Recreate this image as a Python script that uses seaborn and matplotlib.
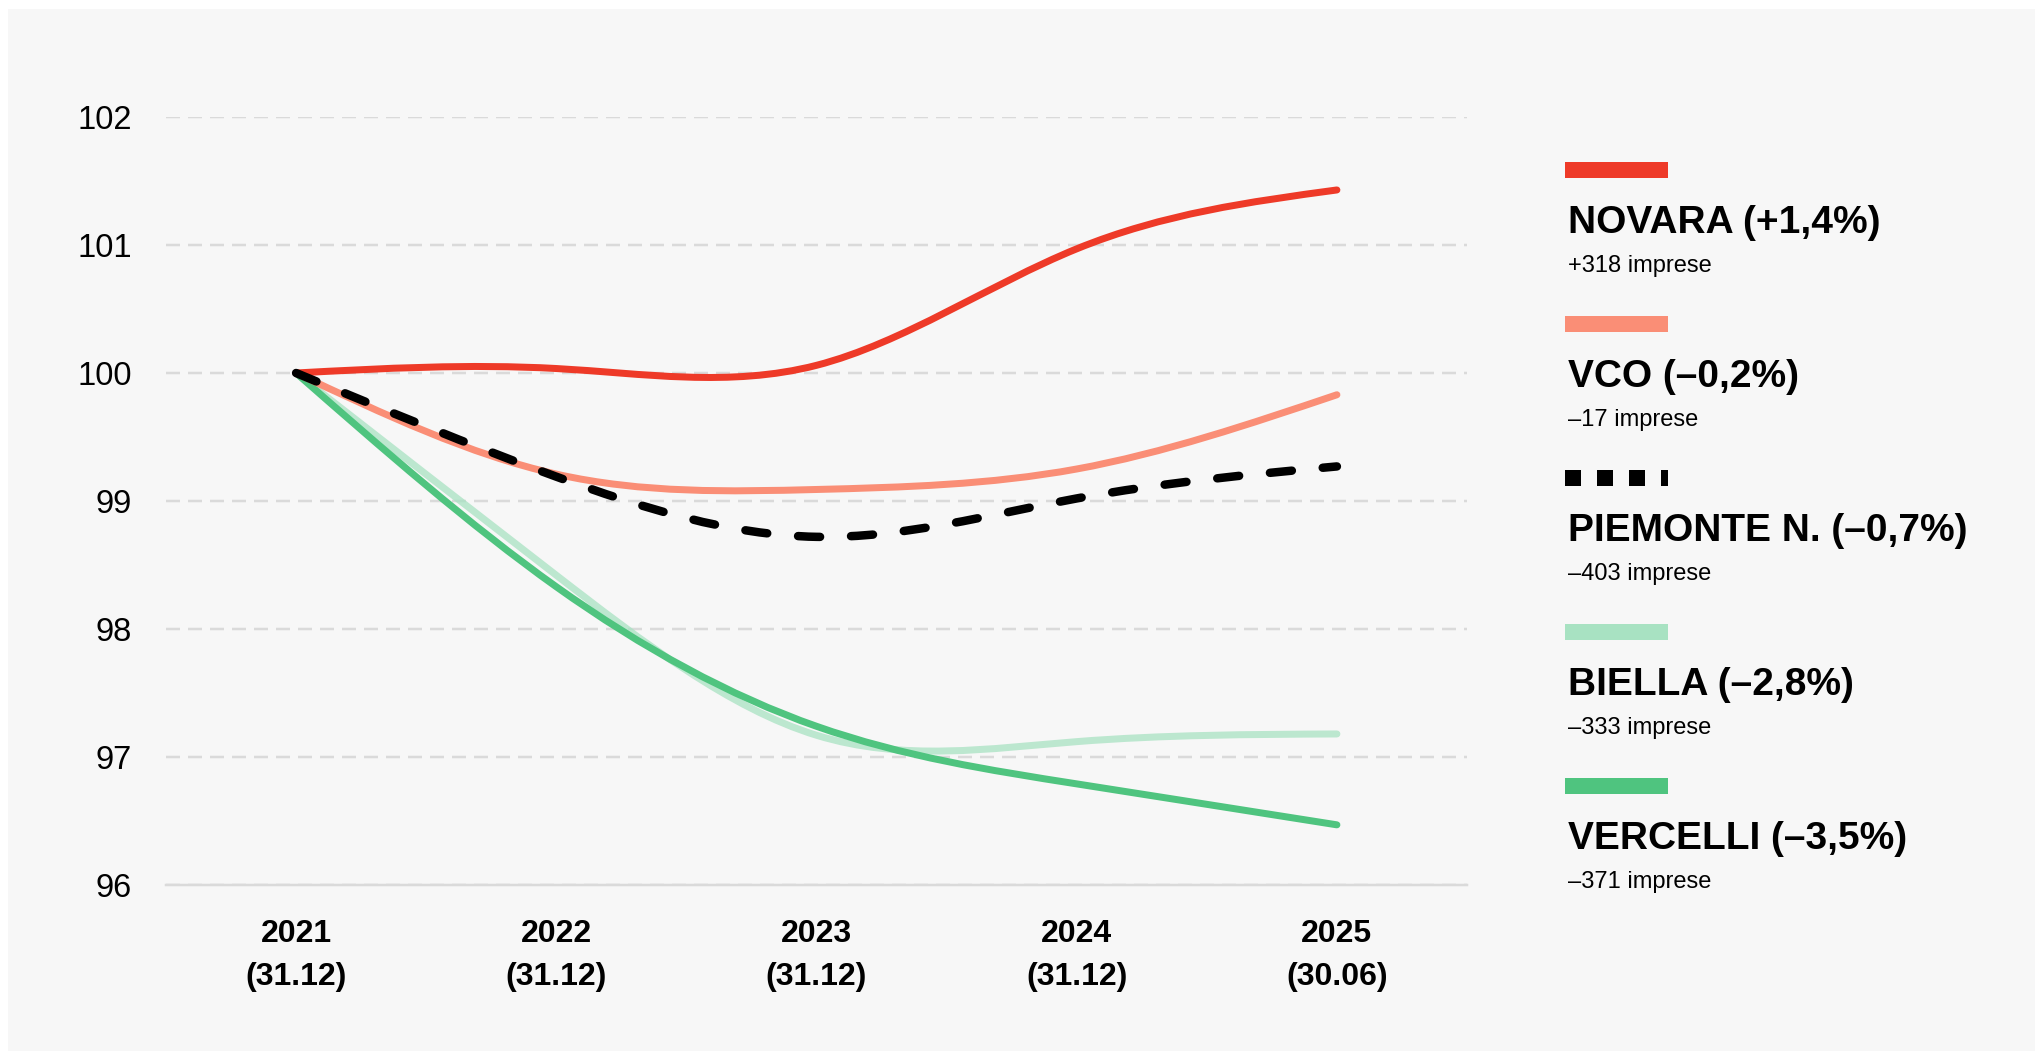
import numpy as np
import seaborn as sns
import matplotlib.pyplot as plt
from matplotlib.path import Path
from matplotlib.patches import PathPatch, Rectangle
from matplotlib.lines import Line2D

# Dati (indice 2021 = 100)
years = [2021, 2022, 2023, 2024, 2025]
dates = ['31.12', '31.12', '31.12', '31.12', '30.06']

novara = [100.0, 100.035, 100.06, 100.97, 101.43]
vco = [100.0, 99.21, 99.09, 99.25, 99.83]
piemonte = [100.0, 99.19, 98.72, 99.02, 99.27]
biella = [100.0, 98.42, 97.17, 97.12, 97.18]
vercelli = [100.0, 98.33, 97.24, 96.79, 96.47]

names = ['NOVARA', 'VCO', 'PIEMONTE N.', 'BIELLA', 'VERCELLI']
pct_change = [1.4, -0.2, -0.7, -2.8, -3.5]
delta_imprese = [318, -17, -403, -333, -371]
series = [novara, vco, piemonte, biella, vercelli]

yticks = [96, 97, 98, 99, 100, 101, 102]

# Stile
colors = ['#ee3a28', '#fa8e76', '#000000', '#a8e2c2', '#4fc47f']
line_alpha = [1, 1, 1, 0.75, 1]
zorders = [5, 4, 6, 2, 3]
bg_color = '#f7f7f7'
grid_color = '#dadada'
W, H = 2035, 1051
DPI = 100
PT = 72 / DPI  # pixel -> punti

sns.set_theme(style='white')
plt.rcParams['font.family'] = ['Liberation Sans', 'DejaVu Sans']
plt.rcParams['lines.scale_dashes'] = False


def fmt_sign(v):
    return '+' if v > 0 else '\u2013'


def curve_path(x, y):
    # curva "natural" (come d3.curveNatural) disegnata con bezier cubiche
    x = np.asarray(x, float)
    y = np.asarray(y, float)
    n = len(y)
    A = np.zeros((n, n))
    d = np.zeros(n)
    A[0, 0] = A[-1, -1] = 1
    for i in range(1, n - 1):
        A[i, i - 1:i + 2] = [1, 4, 1]
        d[i] = 6 * (y[i + 1] - 2 * y[i] + y[i - 1])
    M = np.linalg.solve(A, d)
    s = np.zeros(n)
    for i in range(n - 1):
        s[i] = (y[i + 1] - y[i]) - (2 * M[i] + M[i + 1]) / 6
    s[-1] = (y[-1] - y[-2]) + (M[-2] + 2 * M[-1]) / 6
    h = x[1] - x[0]
    verts = [(x[0], y[0])]
    codes = [Path.MOVETO]
    for i in range(n - 1):
        verts += [(x[i] + h / 3, y[i] + s[i] / 3),
                  (x[i + 1] - h / 3, y[i + 1] - s[i + 1] / 3),
                  (x[i + 1], y[i + 1])]
        codes += [Path.CURVE4] * 3
    return Path(verts, codes)


fig = plt.figure(figsize=(W / DPI, H / DPI), dpi=DPI)
fig.patch.set_facecolor('white')
fig.patches.append(Rectangle((8 / W, 0), 1, 1 - 9 / H, transform=fig.transFigure,
                             facecolor=bg_color, edgecolor='none', zorder=-10))

ax = fig.add_axes([166 / W, 166 / H, 1301 / W, 768 / H])
ax.set_facecolor(bg_color)

for vals, c, a, z, name in zip(series, colors, line_alpha, zorders, names):
    if name.startswith('PIEMONTE'):
        ls = (0, (22 * PT, 31 * PT))
        lw = 8.5 * PT
    else:
        ls = '-'
        lw = 7 * PT
    patch = PathPatch(curve_path(years, vals), fill=False, edgecolor=c, alpha=a,
                      linewidth=lw, linestyle=ls, capstyle='round', joinstyle='round',
                      zorder=z)
    ax.add_patch(patch)

ax.set_xlim(2020.5, 2025.5)
ax.set_ylim(96, 102)
ax.set_yticks(yticks)
ax.set_yticklabels([str(t) for t in yticks], fontsize=23.5)
ax.set_xticks(years)
ax.set_xticklabels([f'{y}\n({d})' for y, d in zip(years, dates)],
                   fontsize=23, fontweight='bold', linespacing=1.58)

ax.yaxis.grid(True, color=grid_color, linewidth=2.5 * PT, linestyle=(0, (14 * PT, 8 * PT)))
ax.xaxis.grid(False)
ax.tick_params(axis='y', length=0, pad=34 * PT, colors='black')
ax.tick_params(axis='x', length=9 * PT, width=2 * PT, color=grid_color, pad=25 * PT,
               direction='out', labelcolor='black')
sns.despine(ax=ax, left=True, top=True, right=True)
ax.spines['bottom'].set_color(grid_color)
ax.spines['bottom'].set_linewidth(2.5 * PT)
ax.spines['bottom'].set_zorder(1)

# Legenda a destra
x0 = 1565
step = 154
for i, (name, pct, dimp, c) in enumerate(zip(names, pct_change, delta_imprese, colors)):
    top = 162 + i * step
    if name.startswith('PIEMONTE'):
        yc = 1 - (top + 8) / H
        fig.add_artist(Line2D([x0 / W, (x0 + 103) / W], [yc, yc], transform=fig.transFigure,
                              color=c, linewidth=16 * PT, solid_capstyle='butt',
                              dash_capstyle='butt', linestyle=(0, (16 * PT, 16 * PT))))
    else:
        fig.patches.append(Rectangle((x0 / W, 1 - (top + 16) / H), 103 / W, 16 / H,
                                     transform=fig.transFigure, facecolor=c,
                                     edgecolor='none'))
    pct_txt = f'{abs(pct):.1f}'.replace('.', ',')
    title = f'{name} ({fmt_sign(pct)}{pct_txt}%)'
    fig.text((x0 + 3) / W, 1 - (top + 71) / H, title, fontsize=28, fontweight='bold',
             color='black', va='baseline', ha='left')
    fig.text((x0 + 3) / W, 1 - (top + 110) / H, f'{fmt_sign(dimp)}{abs(dimp)} imprese',
             fontsize=17, color='black', va='baseline', ha='left')

fig.savefig('out.png', dpi=DPI, facecolor=fig.get_facecolor())
